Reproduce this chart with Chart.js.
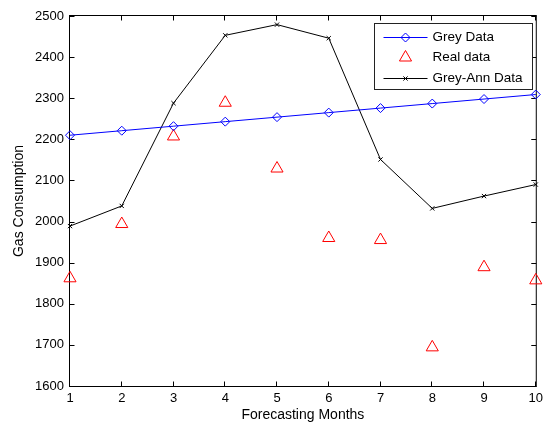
<!DOCTYPE html>
<html>
<head>
<meta charset="utf-8">
<script src="https://cdn.jsdelivr.net/npm/chart.js@4.4.1/dist/chart.umd.min.js"></script>
<style>
  html, body { margin: 0; padding: 0; background: #fff; }
  #wrap { width: 548px; height: 425px; position: relative; }
</style>
</head>
<body>
<div id="wrap"><canvas id="gasChart"></canvas></div>
<script>
// values
const months = ['1', '2', '3', '4', '5', '6', '7', '8', '9', '10'];
const greyData = [2210, 2221, 2232, 2243, 2254, 2265, 2276, 2287, 2298, 2309];
const realData = [1862, 1994, 2207, 2289, 2129, 1960, 1955, 1694, 1889, 1857];
const greyAnnData = [1989, 2038, 2288, 2453, 2479, 2446, 2151, 2032, 2062, 2090];
const yTicks = [1600, 1700, 1800, 1900, 2000, 2100, 2200, 2300, 2400, 2500];

const FONT = 'Arial, "Liberation Sans", sans-serif';
Chart.defaults.font.family = FONT;
Chart.defaults.font.size = 13;
Chart.defaults.color = '#000';

function marker(ctx, style, x, y, r) {
    ctx.beginPath();
    if (style === 'rectRot') {
        ctx.moveTo(x, y - r); ctx.lineTo(x + r, y); ctx.lineTo(x, y + r); ctx.lineTo(x - r, y);
        ctx.closePath();
    } else if (style === 'triangle') {
        const w = r * Math.sin(Math.PI / 3);
        ctx.moveTo(x, y - r); ctx.lineTo(x + w, y + r / 2); ctx.lineTo(x - w, y + r / 2);
        ctx.closePath();
    } else if (style === 'crossRot') {
        const d = r * Math.SQRT1_2;
        ctx.moveTo(x - d, y - d); ctx.lineTo(x + d, y + d);
        ctx.moveTo(x + d, y - d); ctx.lineTo(x - d, y + d);
    }
    ctx.stroke();
}

// matlab style box with inward ticks
const axesBox = {
    id: 'axesBox',
    beforeDatasetsDraw(chart) {
        const ctx = chart.ctx;
        const a = chart.chartArea;
        const sx = chart.scales.x, sy = chart.scales.y;
        const L = a.left - 0.5, R = a.right + 0.5, T = a.top - 0.5, B = a.bottom + 0.5;
        ctx.save();
        ctx.strokeStyle = '#000';
        ctx.lineWidth = 1;
        ctx.strokeRect(L, T, R - L, B - T);
        ctx.beginPath();
        sx.ticks.forEach((t, i) => {
            const px = Math.round(sx.getPixelForTick(i)) - 0.5;
            ctx.moveTo(px, B); ctx.lineTo(px, B - 5);
            ctx.moveTo(px, T); ctx.lineTo(px, T + 5);
        });
        sy.ticks.forEach((t, i) => {
            const py = Math.round(sy.getPixelForTick(i)) + 0.5;
            ctx.moveTo(L, py); ctx.lineTo(L + 5, py);
            ctx.moveTo(R, py); ctx.lineTo(R - 5, py);
        });
        ctx.stroke();
        ctx.restore();
    }
};

const boxLegend = {
    id: 'boxLegend',
    afterDraw(chart) {
        const ctx = chart.ctx;
        const a = chart.chartArea;
        const w = 158, h = 66;
        const left = Math.round(a.right - 4 - w) + 0.5, top = Math.round(a.top + 7) + 0.5;
        ctx.save();
        ctx.fillStyle = '#fff';
        ctx.fillRect(left, top, w, h);
        ctx.strokeStyle = '#222';
        ctx.lineWidth = 1;
        ctx.strokeRect(left, top, w, h);
        ctx.font = '13.5px ' + FONT;
        ctx.textBaseline = 'middle';
        chart.data.datasets.forEach((ds, i) => {
            const y = top + 13 + i * 20.5;
            const lx = left + 9, rx = left + 53, mx = left + 31;
            ctx.strokeStyle = ds.borderColor;
            ctx.lineWidth = 1;
            if (ds.showLine !== false) {
                ctx.beginPath(); ctx.moveTo(lx, Math.round(y) + 0.5); ctx.lineTo(rx, Math.round(y) + 0.5); ctx.stroke();
            }
            ctx.strokeStyle = ds.pointBorderColor;
            marker(ctx, ds.pointStyle, mx, Math.round(y) + 0.5, ds.pointRadius);
            ctx.fillStyle = '#000';
            ctx.fillText(ds.label, left + 58, y + 0.5);
        });
        ctx.restore();
    }
};

new Chart(document.getElementById('gasChart').getContext('2d'), {
    type: 'line',
    data: {
        labels: months,
        datasets: [
            {
                label: 'Grey Data',
                data: greyData,
                borderColor: '#0000ff',
                borderWidth: 1,
                pointStyle: 'rectRot',
                pointRadius: 4.5,
                pointBorderColor: '#0000ff',
                pointBackgroundColor: 'rgba(0,0,0,0)',
                pointBorderWidth: 1,
                tension: 0,
                clip: false
            },
            {
                label: 'Real data',
                data: realData,
                showLine: false,
                borderColor: '#ff0000',
                pointStyle: 'triangle',
                pointRadius: 7,
                pointBorderColor: '#ff0000',
                pointBackgroundColor: 'rgba(0,0,0,0)',
                pointBorderWidth: 1,
                clip: false
            },
            {
                label: 'Grey-Ann Data',
                data: greyAnnData,
                borderColor: '#000',
                borderWidth: 1,
                pointStyle: 'crossRot',
                pointRadius: 3,
                pointBorderColor: '#000',
                pointBorderWidth: 1,
                tension: 0,
                clip: false
            }
        ]
    },
    options: {
        responsive: true,
        maintainAspectRatio: false,
        animation: false,
        layout: { padding: { left: 0, right: 8, top: 16, bottom: 0 } },
        plugins: {
            legend: { display: false },
            tooltip: { enabled: false }
        },
        scales: {
            x: {
                offset: false,
                grid: { display: false, drawTicks: false },
                border: { display: false },
                ticks: { padding: 5, maxRotation: 0, autoSkip: false },
                title: { display: true, text: 'Forecasting Months', font: { size: 14 }, padding: { top: 0, bottom: 1 } },
                afterFit(scale) { scale.height = 39; }
            },
            y: {
                min: 1600,
                max: 2500,
                grid: { display: false, drawTicks: false },
                border: { display: false },
                ticks: { padding: 6, callback: v => String(v) },
                afterBuildTicks(scale) { scale.ticks = yTicks.map(v => ({ value: v })); },
                title: { display: true, text: 'Gas Consumption', font: { size: 14 }, padding: { top: 11, bottom: 0 } },
                afterFit(scale) { scale.width = 70; }
            }
        }
    },
    plugins: [axesBox, boxLegend]
});
</script>
</body>
</html>
